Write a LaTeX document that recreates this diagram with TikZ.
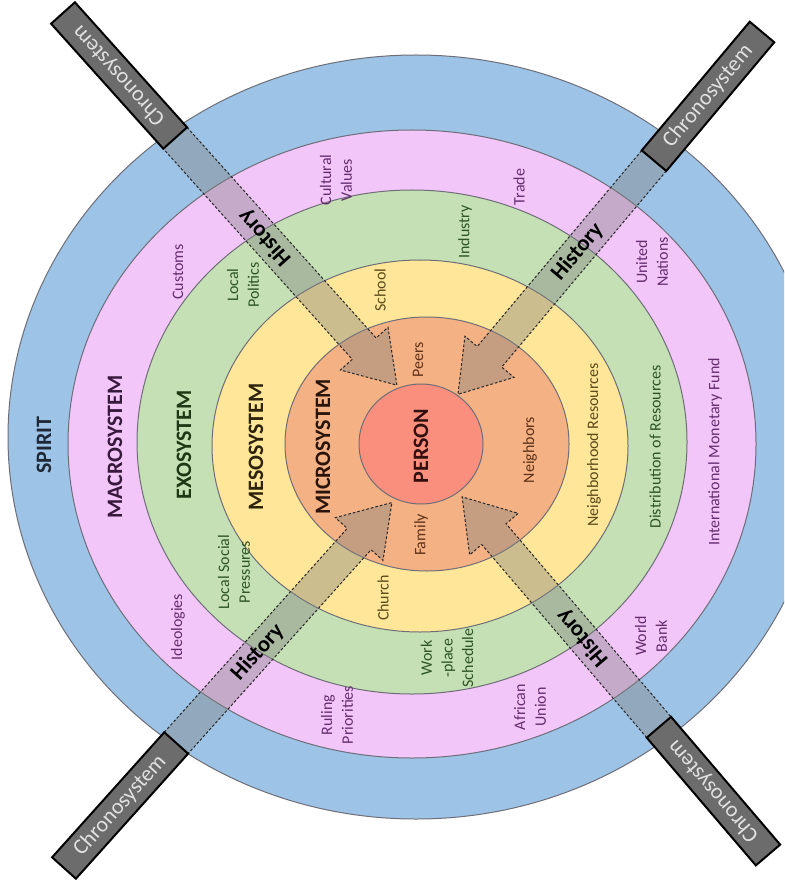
\documentclass[tikz,border=0pt]{standalone}
\usepackage{fontspec}
\setmainfont{Carlito}

\definecolor{spiritblue}{RGB}{157,195,230}
\definecolor{macropink}{RGB}{243,198,250}
\definecolor{exogreen}{RGB}{197,224,180}
\definecolor{mesoyellow}{RGB}{255,230,153}
\definecolor{microorange}{RGB}{244,177,131}
\definecolor{personred}{RGB}{250,143,125}
\definecolor{ringedge}{RGB}{110,110,120}
\definecolor{spirittext}{RGB}{30,40,55}
\definecolor{macrotext}{RGB}{55,25,60}
\definecolor{macrosmall}{RGB}{100,45,110}
\definecolor{exotext}{RGB}{30,55,20}
\definecolor{exosmall}{RGB}{45,85,35}
\definecolor{mesotext}{RGB}{45,35,10}
\definecolor{mesosmall}{RGB}{90,75,25}
\definecolor{microtext}{RGB}{40,20,10}
\definecolor{microsmall}{RGB}{95,50,25}
\definecolor{persontext}{RGB}{50,15,15}
\definecolor{bandgray}{RGB}{128,128,128}
\definecolor{bandedge}{RGB}{40,40,40}
\definecolor{boxgray}{RGB}{108,108,108}
\definecolor{boxtext}{RGB}{225,225,225}

\tikzset{every picture/.style={line width=0.75pt}}
\tikzset{
  ring/.style={draw=ringedge, line width=0.75pt},
  bigtext/.style={inner sep=0.75pt, rotate=90, font=\fontsize{16.5}{18}\selectfont\bfseries},
  smalltext/.style={inner sep=0.75pt, rotate=90, align=center, font=\fontsize{12}{15.5}\selectfont},
  band/.style={fill=bandgray, fill opacity=0.4, draw=bandedge, dash pattern=on 2pt off 1.5pt, line width=0.75pt},
  chronobox/.style={fill=boxgray, draw=black, line width=1.5pt},
  chronotext/.style={inner sep=0.75pt, text=boxtext, font=\fontsize{16.5}{18}\selectfont},
  historytext/.style={inner sep=0.75pt, text=black, font=\fontsize{17}{19}\selectfont\bfseries}
}

\begin{document}
\begin{tikzpicture}[x=0.75pt,y=0.75pt,yscale=-1,xscale=1]
\useasboundingbox (0,0) rectangle (784,880);
\clip (0,0) rectangle (784,880);

%Shape: Ellipse [spirit]
\draw [ring, fill=spiritblue] (416,437) ellipse [x radius=408, y radius=382];
%Shape: Ellipse [macrosystem]
\draw [ring, fill=macropink] (412,444) ellipse [x radius=344, y radius=314];
%Shape: Ellipse [exosystem]
\draw [ring, fill=exogreen] (412,442) ellipse [x radius=275, y radius=252];
%Shape: Ellipse [mesosystem]
\draw [ring, fill=mesoyellow] (420,446) ellipse [x radius=208, y radius=186];
%Shape: Ellipse [microsystem]
\draw [ring, fill=microorange] (427,444) ellipse [x radius=142, y radius=127];
%Shape: Ellipse [person]
\draw [ring, fill=personred] (421,444) ellipse [x radius=62, y radius=60];

% Text Node
\draw (44,445) node (spirit) [bigtext, text=spirittext] {SPIRIT};
% Text Node
\draw (115,447) node (macro) [bigtext, text=macrotext] {MACROSYSTEM};
% Text Node
\draw (184,445) node (exo) [bigtext, text=exotext] {EXOSYSTEM};
% Text Node
\draw (256,447) node (meso) [bigtext, text=mesotext] {MESOSYSTEM};
% Text Node
\draw (323,447) node (micro) [bigtext, text=microtext] {MICROSYSTEM};
% Text Node
\draw (421,446) node (person) [bigtext, text=persontext] {PERSON};

% Text Node
\draw (336,180) node (cultural) [smalltext, text=macrosmall] {Cultural\\Values};
% Text Node
\draw (519,187) node (trade) [smalltext, text=macrosmall] {Trade};
% Text Node
\draw (178,272) node (customs) [smalltext, text=macrosmall] {Customs};
% Text Node
\draw (652,262) node (united) [smalltext, text=macrosmall] {United\\Nations};
% Text Node
\draw (715,452) node (imf) [smalltext, text=macrosmall] {International Monetary Fund};
% Text Node
\draw (178,627) node (ideologies) [smalltext, text=macrosmall] {Ideologies};
% Text Node
\draw (337,715) node (ruling) [smalltext, text=macrosmall] {Ruling\\Priorities};
% Text Node
\draw (530,707) node (african) [smalltext, text=macrosmall] {African\\Union};
% Text Node
\draw (651,636) node (worldbank) [smalltext, text=macrosmall] {World\\Bank};

% Text Node
\draw (243,285) node (politics) [smalltext, text=exosmall] {Local\\Politics};
% Text Node
\draw (465,232) node (industry) [smalltext, text=exosmall] {Industry};
% Text Node
\draw (655,447) node (distribution) [smalltext, text=exosmall] {Distribution of Resources};
% Text Node
\draw (234,572) node (pressures) [smalltext, text=exosmall] {Local Social\\Pressures};
% Text Node
\draw (447,658) node (workplace) [smalltext, text=exosmall] {Work\\-place\\Schedule};

% Text Node
\draw (380,290) node (school) [smalltext, text=mesosmall] {School};
% Text Node
\draw (594,445) node (neighborhood) [smalltext, text=mesosmall] {Neighborhood Resources};
% Text Node
\draw (383,598) node (church) [smalltext, text=mesosmall] {Church};

% Text Node
\draw (418,360) node (peers) [smalltext, text=microsmall] {Peers};
% Text Node
\draw (530,450) node (neighbors) [smalltext, text=microsmall] {Neighbors};
% Text Node
\draw (421,535) node (family) [smalltext, text=microsmall] {Family};

%Shape: Chronosystem bar, top left
\begin{scope}[shift={(63,13)}, rotate=48.1]
\draw [band] (168,-16) -- (451,-16) -- (451,-32) -- (500,0) -- (451,32) -- (451,16) -- (168,16) -- cycle ;
\draw [chronobox] (0,-16) rectangle (168,16) ;
\draw (84,0) node (chronoTL) [chronotext, rotate=131.9] {Chronosystem};
\draw (302,0) node (historyTL) [historytext, rotate=131.9] {History};
\end{scope}

%Shape: Chronosystem bar, top right
\begin{scope}[shift={(762,32)}, rotate=130]
\draw [band] (168,-16) -- (424,-16) -- (424,-32) -- (473,0) -- (424,32) -- (424,16) -- (168,16) -- cycle ;
\draw [chronobox] (0,-16) rectangle (168,16) ;
\draw (84,0) node (chronoTR) [chronotext, rotate=50] {Chronosystem};
\draw (287,0) node (historyTR) [historytext, rotate=50] {History};
\end{scope}

%Shape: Chronosystem bar, bottom left
\begin{scope}[shift={(64,868)}, rotate=-48.1]
\draw [band] (168,-16) -- (442,-16) -- (442,-32) -- (491,0) -- (442,32) -- (442,16) -- (168,16) -- cycle ;
\draw [chronobox] (0,-16) rectangle (168,16) ;
\draw (84,0) node (chronoBL) [chronotext, rotate=48.1] {Chronosystem};
\draw (290,0) node (historyBL) [historytext, rotate=48.1] {History};
\end{scope}

%Shape: Chronosystem bar, bottom right
\begin{scope}[shift={(768,855)}, rotate=-130.5]
\draw [band] (168,-16) -- (422,-16) -- (422,-32) -- (471,0) -- (422,32) -- (422,16) -- (168,16) -- cycle ;
\draw [chronobox] (0,-16) rectangle (168,16) ;
\draw (84,0) node (chronoBR) [chronotext, rotate=130.5] {Chronosystem};
\draw (286,0) node (historyBR) [historytext, rotate=130.5] {History};
\end{scope}

\end{tikzpicture}
\end{document}
